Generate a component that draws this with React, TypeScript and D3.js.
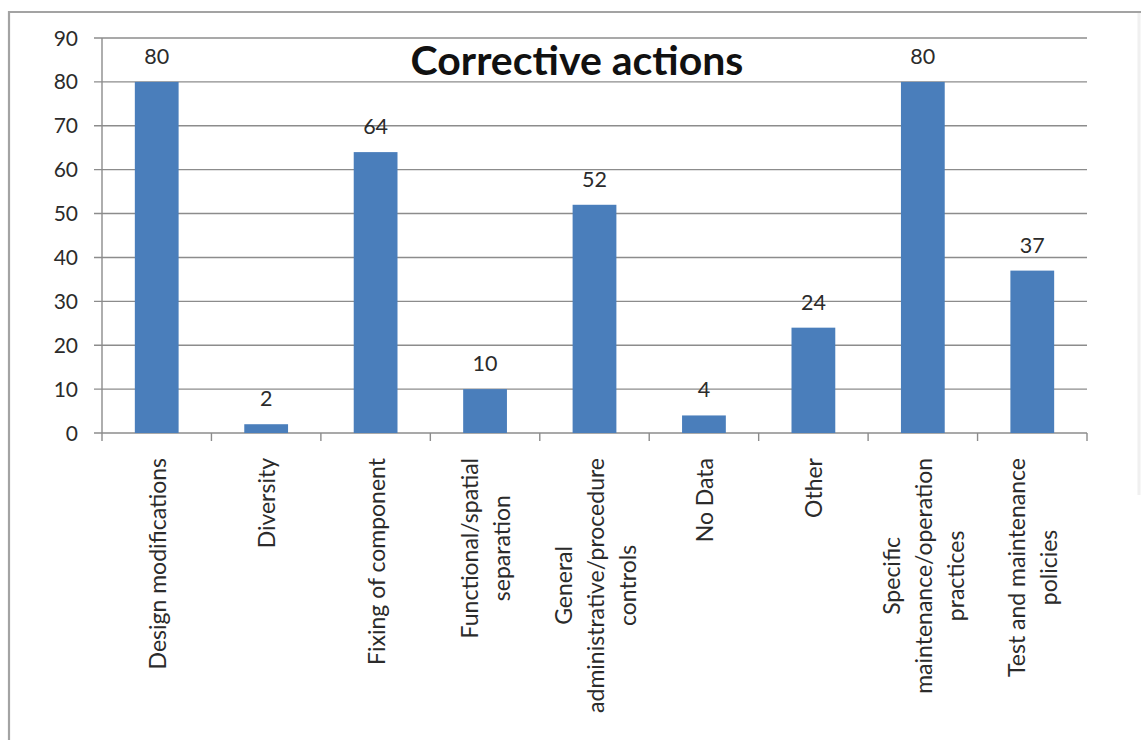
import React, { useEffect, useRef } from "react";
import * as d3 from "d3";

const categories: string[][] = [
  ["Design modifications"],
  ["Diversity"],
  ["Fixing of component"],
  ["Functional/spatial", "separation"],
  ["General", "administrative/procedure", "controls"],
  ["No Data"],
  ["Other"],
  ["Specific", "maintenance/operation", "practices"],
  ["Test and maintenance", "policies"],
];
const counts: number[] = [80, 2, 64, 10, 52, 4, 24, 80, 37];
const yTicks: number[] = [0, 10, 20, 30, 40, 50, 60, 70, 80, 90];
const chartTitle = "Corrective actions";

const W = 1141;
const H = 740;
const FONT = "Lato, 'Open Sans', sans-serif";

export default function App() {
  const ref = useRef<SVGSVGElement | null>(null);

  useEffect(() => {
    const svg = d3.select(ref.current);
    svg.selectAll("*").remove();

    const plot = { left: 102, right: 1087, top: 38, bottom: 433 };
    const keys = categories.map((_, i) => String(i));

    const x = d3
      .scaleBand<string>()
      .domain(keys)
      .range([plot.left, plot.right])
      .paddingInner(0.6)
      .paddingOuter(0.3);
    const y = d3.scaleLinear().domain([0, 90]).range([plot.bottom, plot.top]);

    svg.append("rect").attr("width", W).attr("height", H).attr("fill", "#fff");

    // outer frame
    svg
      .append("path")
      .attr("d", `M9,${H} V12 H${W}`)
      .attr("fill", "none")
      .attr("stroke", "#a3a3a3")
      .attr("stroke-width", 2.2);
    svg
      .append("line")
      .attr("x1", 1139)
      .attr("x2", 1139)
      .attr("y1", 13)
      .attr("y2", 495)
      .attr("stroke", "#f0f0f0")
      .attr("stroke-width", 3);

    const axisColor = "#8c8c8c";

    // horizontal gridlines + left tick marks
    const grid = svg.append("g");
    yTicks.forEach((t) => {
      grid
        .append("line")
        .attr("x1", plot.left - 8)
        .attr("x2", plot.right)
        .attr("y1", y(t))
        .attr("y2", y(t))
        .attr("stroke", axisColor)
        .attr("stroke-width", 1.4);
    });

    // y axis line
    svg
      .append("line")
      .attr("x1", plot.left)
      .attr("x2", plot.left)
      .attr("y1", plot.top)
      .attr("y2", plot.bottom)
      .attr("stroke", axisColor)
      .attr("stroke-width", 1.4);

    // category boundary ticks
    const step = x.step();
    d3.range(categories.length + 1).forEach((i) => {
      const bx = plot.left + i * step;
      svg
        .append("line")
        .attr("x1", bx)
        .attr("x2", bx)
        .attr("y1", plot.bottom)
        .attr("y2", plot.bottom + 8)
        .attr("stroke", axisColor)
        .attr("stroke-width", 1.4);
    });

    // y tick labels
    svg
      .append("g")
      .selectAll("text")
      .data(yTicks)
      .join("text")
      .attr("x", 78)
      .attr("y", (d) => y(d))
      .attr("dy", "0.36em")
      .attr("text-anchor", "end")
      .attr("font-family", FONT)
      .attr("font-size", 21)
      .attr("fill", "#2b2b2b")
      .text((d) => d);

    // bars
    svg
      .append("g")
      .selectAll("rect")
      .data(counts)
      .join("rect")
      .attr("x", (_, i) => x(keys[i]) as number)
      .attr("width", x.bandwidth())
      .attr("y", (d) => y(d))
      .attr("height", (d) => y(0) - y(d))
      .attr("fill", "#4a7ebb");

    // value labels
    svg
      .append("g")
      .selectAll("text")
      .data(counts)
      .join("text")
      .attr("x", (_, i) => (x(keys[i]) as number) + x.bandwidth() / 2)
      .attr("y", (d) => y(d) - 18)
      .attr("text-anchor", "middle")
      .attr("font-family", FONT)
      .attr("font-size", 21.5)
      .attr("fill", "#2b2b2b")
      .text((d) => d);

    // rotated, centre-aligned category labels
    const lineH = 32;
    const labelTop = 458;
    categories.forEach((lines, i) => {
      const cx = (x(keys[i]) as number) + x.bandwidth() / 2;
      const g = svg.append("g");
      const texts = lines.map((ln) =>
        g
          .append("text")
          .attr("text-anchor", "middle")
          .attr("dominant-baseline", "central")
          .attr("font-family", FONT)
          .attr("font-size", 23)
          .attr("fill", "#2b2b2b")
          .text(ln)
      );
      const maxLen = d3.max(texts, (t) => (t.node() as SVGTextElement).getComputedTextLength()) || 0;
      const cy = labelTop + maxLen / 2;
      texts.forEach((t, j) => {
        const lx = cx + (j - (lines.length - 1) / 2) * lineH;
        t.attr("transform", `translate(${lx},${cy}) rotate(-90)`);
      });
    });

    // title
    svg
      .append("text")
      .attr("x", 577)
      .attr("y", 75)
      .attr("text-anchor", "middle")
      .attr("font-family", FONT)
      .attr("font-weight", "bold")
      .attr("font-size", 41)
      .attr("fill", "#111")
      .text(chartTitle);
  }, []);

  return (
    <svg
      ref={ref}
      width={W}
      height={H}
      style={{ position: "absolute", left: 0, top: 0, display: "block" }}
    />
  );
}
